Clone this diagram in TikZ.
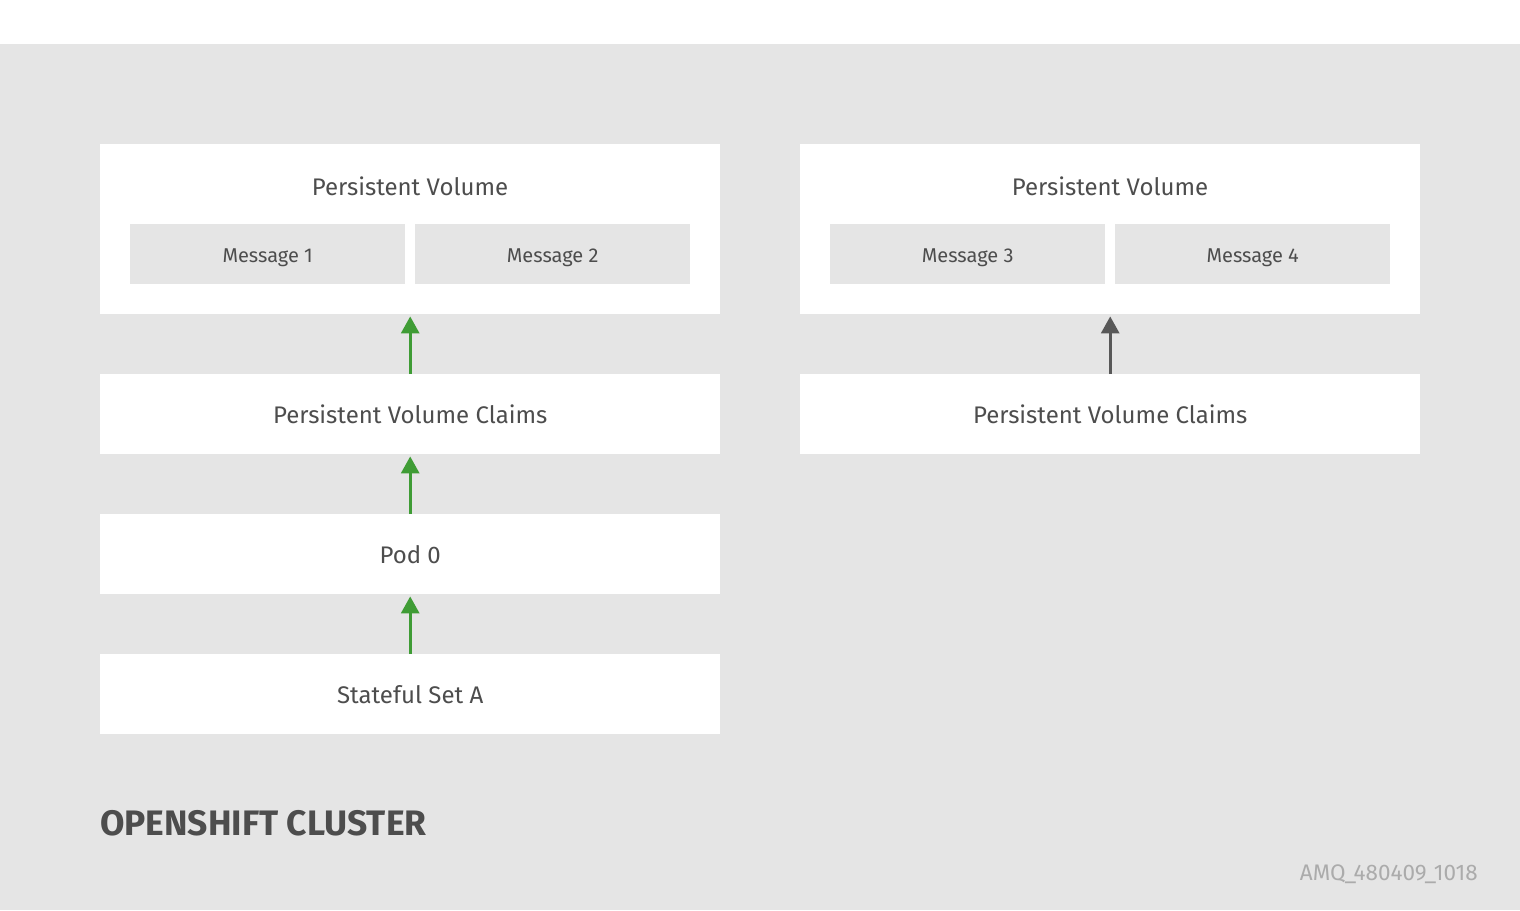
\documentclass[tikz,border=0pt]{standalone}
\usepackage{fontspec}
\setmainfont{Fira Sans}
\usetikzlibrary{arrows.meta}
\definecolor{bggray}{HTML}{E5E5E5}
\definecolor{txtgray}{HTML}{4D4D4D}
\definecolor{rhgreen}{HTML}{3F9C35}
\definecolor{arrgray}{HTML}{585858}
\definecolor{idgray}{HTML}{ABABAB}
\tikzset{
  panel/.style={fill=white, draw=none, minimum width=620pt, inner sep=0pt, anchor=north west},
  msgbox/.style={fill=bggray, draw=none, minimum width=275pt, minimum height=60pt, inner sep=0pt, anchor=north west},
  msglbl/.style={text=txtgray, font=\fontsize{20}{22}\selectfont, inner sep=0pt},
  lbl/.style={text=txtgray, font=\fontsize{24}{26}\selectfont, inner sep=0pt},
  flow/.style={line width=3pt, -{Triangle[width=18pt,length=17pt]}, shorten >=2pt},
}
\begin{document}
\begin{tikzpicture}[x=1pt,y=-1pt]
\useasboundingbox (0,0) rectangle (1520,910);
\fill[bggray] (0,44) rectangle (1520,910);
% left column
\node[panel, minimum height=170pt] (pvA) at (100,144) {};
\node[lbl] (pvAt) at (410,186) {Persistent Volume};
\node[msgbox] (m1) at (130,224) {};
\node[msglbl] at ([yshift=-4pt]m1.center) {Message 1};
\node[msgbox] (m2) at (415,224) {};
\node[msglbl] at ([yshift=-4pt]m2.center) {Message 2};
\node[panel, minimum height=80pt] (pvcA) at (100,374) {};
\node[lbl] at (pvcA.center) {Persistent Volume Claims};
\node[panel, minimum height=80pt] (pod) at (100,514) {};
\node[lbl] at (pod.center) {Pod 0};
\node[panel, minimum height=80pt] (ss) at (100,654) {};
\node[lbl] at (ss.center) {Stateful Set A};
% right column
\node[panel, minimum height=170pt] (pvB) at (800,144) {};
\node[lbl] (pvBt) at (1110,186) {Persistent Volume};
\node[msgbox] (m3) at (830,224) {};
\node[msglbl] at ([yshift=-4pt]m3.center) {Message 3};
\node[msgbox] (m4) at (1115,224) {};
\node[msglbl] at ([yshift=-4pt]m4.center) {Message 4};
\node[panel, minimum height=80pt] (pvcB) at (800,374) {};
\node[lbl] at (pvcB.center) {Persistent Volume Claims};
% arrows
\draw[flow, rhgreen] (pvcA.north) -- (pvA.south);
\draw[flow, rhgreen] (pod.north) -- (pvcA.south);
\draw[flow, rhgreen] (ss.north) -- (pod.south);
\draw[flow, arrgray] (pvcB.north) -- (pvB.south);
% labels
\node[anchor=base west, inner sep=0pt, text=txtgray, font=\fontsize{35.4}{37}\selectfont\bfseries] (cl) at (100,835) {OPENSHIFT CLUSTER};
\node[anchor=base east, inner sep=0pt, text=idgray, font=\fontsize{22.5}{24}\selectfont] (id) at (1478,880) {AMQ\_480409\_1018};
\end{tikzpicture}
\end{document}
